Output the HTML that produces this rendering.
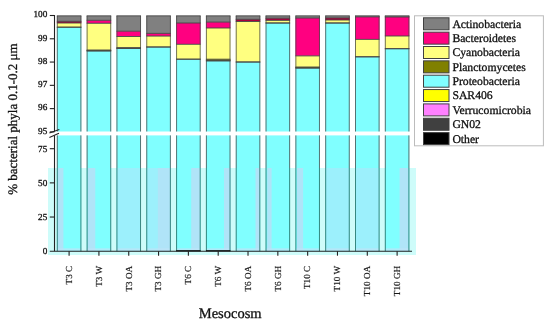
<!DOCTYPE html><html><head><meta charset="utf-8"><style>
html,body{margin:0;padding:0;background:#fff;width:550px;height:323px;overflow:hidden}
svg{display:block;will-change:transform}text{font-family:"Liberation Serif",serif;text-rendering:geometricPrecision;fill:#111;stroke:#111;stroke-width:0.3px}.xl{stroke-width:0.18px;fill:#1a1a1a;stroke:#1a1a1a}
</style></head><body>
<svg width="550" height="323" viewBox="0 0 550 323">
<rect x="56.85" y="27.20" width="24.5" height="104.30" fill="#80FFFF"/>
<rect x="56.85" y="15.85" width="24.5" height="5.45" fill="#808080"/>
<rect x="56.85" y="21.30" width="24.5" height="1.70" fill="#a8003c"/>
<rect x="56.85" y="23.00" width="24.5" height="4.20" fill="#FFFF80"/>
<rect x="56.85" y="135.4" width="24.5" height="115.80" fill="#80FFFF"/>
<line x1="56.85" x2="81.35" y1="15.85" y2="15.85" stroke="#444" stroke-width="0.9"/>
<line x1="56.85" x2="81.35" y1="21.30" y2="21.30" stroke="#444" stroke-width="0.9"/>
<line x1="56.85" x2="81.35" y1="23.00" y2="23.00" stroke="#444" stroke-width="0.9"/>
<line x1="56.85" x2="81.35" y1="27.20" y2="27.20" stroke="#444" stroke-width="0.9"/>
<line x1="56.85" x2="81.35" y1="27.20" y2="27.20" stroke="#444" stroke-width="0.9"/>
<line x1="57.30" x2="57.30" y1="15.85" y2="131.5" stroke="#444" stroke-width="0.75"/>
<line x1="57.30" x2="57.30" y1="135.4" y2="251.20" stroke="#444" stroke-width="0.75"/>
<line x1="80.90" x2="80.90" y1="15.85" y2="131.5" stroke="#444" stroke-width="0.75"/>
<line x1="80.90" x2="80.90" y1="135.4" y2="251.20" stroke="#444" stroke-width="0.75"/>
<rect x="86.67" y="50.90" width="24.5" height="80.60" fill="#80FFFF"/>
<rect x="86.67" y="15.85" width="24.5" height="4.45" fill="#808080"/>
<rect x="86.67" y="20.30" width="24.5" height="3.00" fill="#FF0080"/>
<rect x="86.67" y="23.30" width="24.5" height="26.70" fill="#FFFF80"/>
<rect x="86.67" y="50.00" width="24.5" height="0.90" fill="#808000"/>
<rect x="86.67" y="135.4" width="24.5" height="115.80" fill="#80FFFF"/>
<line x1="86.67" x2="111.17" y1="15.85" y2="15.85" stroke="#444" stroke-width="0.9"/>
<line x1="86.67" x2="111.17" y1="20.30" y2="20.30" stroke="#444" stroke-width="0.9"/>
<line x1="86.67" x2="111.17" y1="23.30" y2="23.30" stroke="#444" stroke-width="0.9"/>
<line x1="86.67" x2="111.17" y1="50.00" y2="50.00" stroke="#444" stroke-width="0.9"/>
<line x1="86.67" x2="111.17" y1="50.90" y2="50.90" stroke="#444" stroke-width="0.9"/>
<line x1="86.67" x2="111.17" y1="50.90" y2="50.90" stroke="#444" stroke-width="0.9"/>
<line x1="87.12" x2="87.12" y1="15.85" y2="131.5" stroke="#444" stroke-width="0.75"/>
<line x1="87.12" x2="87.12" y1="135.4" y2="251.20" stroke="#444" stroke-width="0.75"/>
<line x1="110.72" x2="110.72" y1="15.85" y2="131.5" stroke="#444" stroke-width="0.75"/>
<line x1="110.72" x2="110.72" y1="135.4" y2="251.20" stroke="#444" stroke-width="0.75"/>
<rect x="116.49" y="48.30" width="24.5" height="83.20" fill="#80FFFF"/>
<rect x="116.49" y="15.85" width="24.5" height="15.35" fill="#808080"/>
<rect x="116.49" y="31.20" width="24.5" height="5.30" fill="#FF0080"/>
<rect x="116.49" y="36.50" width="24.5" height="11.20" fill="#FFFF80"/>
<rect x="116.49" y="47.70" width="24.5" height="0.60" fill="#808000"/>
<rect x="116.49" y="135.4" width="24.5" height="115.80" fill="#80FFFF"/>
<line x1="116.49" x2="140.99" y1="15.85" y2="15.85" stroke="#444" stroke-width="0.9"/>
<line x1="116.49" x2="140.99" y1="31.20" y2="31.20" stroke="#444" stroke-width="0.9"/>
<line x1="116.49" x2="140.99" y1="36.50" y2="36.50" stroke="#444" stroke-width="0.9"/>
<line x1="116.49" x2="140.99" y1="47.70" y2="47.70" stroke="#444" stroke-width="0.9"/>
<line x1="116.49" x2="140.99" y1="48.30" y2="48.30" stroke="#444" stroke-width="0.9"/>
<line x1="116.49" x2="140.99" y1="48.30" y2="48.30" stroke="#444" stroke-width="0.9"/>
<line x1="116.94" x2="116.94" y1="15.85" y2="131.5" stroke="#444" stroke-width="0.75"/>
<line x1="116.94" x2="116.94" y1="135.4" y2="251.20" stroke="#444" stroke-width="0.75"/>
<line x1="140.54" x2="140.54" y1="15.85" y2="131.5" stroke="#444" stroke-width="0.75"/>
<line x1="140.54" x2="140.54" y1="135.4" y2="251.20" stroke="#444" stroke-width="0.75"/>
<rect x="146.31" y="47.00" width="24.5" height="84.50" fill="#80FFFF"/>
<rect x="146.31" y="15.85" width="24.5" height="17.55" fill="#808080"/>
<rect x="146.31" y="33.40" width="24.5" height="2.70" fill="#FF0080"/>
<rect x="146.31" y="36.10" width="24.5" height="10.90" fill="#FFFF80"/>
<rect x="146.31" y="135.4" width="24.5" height="115.80" fill="#80FFFF"/>
<line x1="146.31" x2="170.81" y1="15.85" y2="15.85" stroke="#444" stroke-width="0.9"/>
<line x1="146.31" x2="170.81" y1="33.40" y2="33.40" stroke="#444" stroke-width="0.9"/>
<line x1="146.31" x2="170.81" y1="36.10" y2="36.10" stroke="#444" stroke-width="0.9"/>
<line x1="146.31" x2="170.81" y1="47.00" y2="47.00" stroke="#444" stroke-width="0.9"/>
<line x1="146.31" x2="170.81" y1="47.00" y2="47.00" stroke="#444" stroke-width="0.9"/>
<line x1="146.76" x2="146.76" y1="15.85" y2="131.5" stroke="#444" stroke-width="0.75"/>
<line x1="146.76" x2="146.76" y1="135.4" y2="251.20" stroke="#444" stroke-width="0.75"/>
<line x1="170.36" x2="170.36" y1="15.85" y2="131.5" stroke="#444" stroke-width="0.75"/>
<line x1="170.36" x2="170.36" y1="135.4" y2="251.20" stroke="#444" stroke-width="0.75"/>
<rect x="176.13" y="59.20" width="24.5" height="72.30" fill="#80FFFF"/>
<rect x="176.13" y="15.85" width="24.5" height="7.15" fill="#808080"/>
<rect x="176.13" y="23.00" width="24.5" height="21.30" fill="#FF0080"/>
<rect x="176.13" y="44.30" width="24.5" height="14.90" fill="#FFFF80"/>
<rect x="176.13" y="135.4" width="24.5" height="115.80" fill="#80FFFF"/>
<line x1="176.13" x2="200.63" y1="15.85" y2="15.85" stroke="#444" stroke-width="0.9"/>
<line x1="176.13" x2="200.63" y1="23.00" y2="23.00" stroke="#444" stroke-width="0.9"/>
<line x1="176.13" x2="200.63" y1="44.30" y2="44.30" stroke="#444" stroke-width="0.9"/>
<line x1="176.13" x2="200.63" y1="59.20" y2="59.20" stroke="#444" stroke-width="0.9"/>
<line x1="176.13" x2="200.63" y1="59.20" y2="59.20" stroke="#444" stroke-width="0.9"/>
<line x1="176.58" x2="176.58" y1="15.85" y2="131.5" stroke="#444" stroke-width="0.75"/>
<line x1="176.58" x2="176.58" y1="135.4" y2="251.20" stroke="#444" stroke-width="0.75"/>
<line x1="200.18" x2="200.18" y1="15.85" y2="131.5" stroke="#444" stroke-width="0.75"/>
<line x1="200.18" x2="200.18" y1="135.4" y2="251.20" stroke="#444" stroke-width="0.75"/>
<rect x="205.95" y="60.80" width="24.5" height="70.70" fill="#80FFFF"/>
<rect x="205.95" y="15.85" width="24.5" height="6.25" fill="#808080"/>
<rect x="205.95" y="22.10" width="24.5" height="5.90" fill="#FF0080"/>
<rect x="205.95" y="28.00" width="24.5" height="31.20" fill="#FFFF80"/>
<rect x="205.95" y="59.20" width="24.5" height="1.60" fill="#808000"/>
<rect x="205.95" y="135.4" width="24.5" height="115.80" fill="#80FFFF"/>
<line x1="205.95" x2="230.45" y1="15.85" y2="15.85" stroke="#444" stroke-width="0.9"/>
<line x1="205.95" x2="230.45" y1="22.10" y2="22.10" stroke="#444" stroke-width="0.9"/>
<line x1="205.95" x2="230.45" y1="28.00" y2="28.00" stroke="#444" stroke-width="0.9"/>
<line x1="205.95" x2="230.45" y1="59.20" y2="59.20" stroke="#444" stroke-width="0.9"/>
<line x1="205.95" x2="230.45" y1="60.80" y2="60.80" stroke="#444" stroke-width="0.9"/>
<line x1="205.95" x2="230.45" y1="60.80" y2="60.80" stroke="#444" stroke-width="0.9"/>
<line x1="206.40" x2="206.40" y1="15.85" y2="131.5" stroke="#444" stroke-width="0.75"/>
<line x1="206.40" x2="206.40" y1="135.4" y2="251.20" stroke="#444" stroke-width="0.75"/>
<line x1="230.00" x2="230.00" y1="15.85" y2="131.5" stroke="#444" stroke-width="0.75"/>
<line x1="230.00" x2="230.00" y1="135.4" y2="251.20" stroke="#444" stroke-width="0.75"/>
<rect x="235.77" y="62.00" width="24.5" height="69.50" fill="#80FFFF"/>
<rect x="235.77" y="15.85" width="24.5" height="3.45" fill="#808080"/>
<rect x="235.77" y="19.30" width="24.5" height="2.20" fill="#a8003c"/>
<rect x="235.77" y="21.50" width="24.5" height="40.50" fill="#FFFF80"/>
<rect x="235.77" y="135.4" width="24.5" height="115.80" fill="#80FFFF"/>
<line x1="235.77" x2="260.27" y1="15.85" y2="15.85" stroke="#444" stroke-width="0.9"/>
<line x1="235.77" x2="260.27" y1="19.30" y2="19.30" stroke="#444" stroke-width="0.9"/>
<line x1="235.77" x2="260.27" y1="21.50" y2="21.50" stroke="#444" stroke-width="0.9"/>
<line x1="235.77" x2="260.27" y1="62.00" y2="62.00" stroke="#444" stroke-width="0.9"/>
<line x1="235.77" x2="260.27" y1="62.00" y2="62.00" stroke="#444" stroke-width="0.9"/>
<line x1="236.22" x2="236.22" y1="15.85" y2="131.5" stroke="#444" stroke-width="0.75"/>
<line x1="236.22" x2="236.22" y1="135.4" y2="251.20" stroke="#444" stroke-width="0.75"/>
<line x1="259.82" x2="259.82" y1="15.85" y2="131.5" stroke="#444" stroke-width="0.75"/>
<line x1="259.82" x2="259.82" y1="135.4" y2="251.20" stroke="#444" stroke-width="0.75"/>
<rect x="265.59" y="23.00" width="24.5" height="108.50" fill="#80FFFF"/>
<rect x="265.59" y="15.85" width="24.5" height="2.35" fill="#808080"/>
<rect x="265.59" y="18.20" width="24.5" height="2.20" fill="#a8003c"/>
<rect x="265.59" y="20.40" width="24.5" height="2.60" fill="#FFFF80"/>
<rect x="265.59" y="135.4" width="24.5" height="115.80" fill="#80FFFF"/>
<line x1="265.59" x2="290.09" y1="15.85" y2="15.85" stroke="#444" stroke-width="0.9"/>
<line x1="265.59" x2="290.09" y1="18.20" y2="18.20" stroke="#444" stroke-width="0.9"/>
<line x1="265.59" x2="290.09" y1="20.40" y2="20.40" stroke="#444" stroke-width="0.9"/>
<line x1="265.59" x2="290.09" y1="23.00" y2="23.00" stroke="#444" stroke-width="0.9"/>
<line x1="265.59" x2="290.09" y1="23.00" y2="23.00" stroke="#444" stroke-width="0.9"/>
<line x1="266.04" x2="266.04" y1="15.85" y2="131.5" stroke="#444" stroke-width="0.75"/>
<line x1="266.04" x2="266.04" y1="135.4" y2="251.20" stroke="#444" stroke-width="0.75"/>
<line x1="289.64" x2="289.64" y1="15.85" y2="131.5" stroke="#444" stroke-width="0.75"/>
<line x1="289.64" x2="289.64" y1="135.4" y2="251.20" stroke="#444" stroke-width="0.75"/>
<rect x="295.41" y="68.00" width="24.5" height="63.50" fill="#80FFFF"/>
<rect x="295.41" y="15.85" width="24.5" height="2.15" fill="#808080"/>
<rect x="295.41" y="18.00" width="24.5" height="37.90" fill="#FF0080"/>
<rect x="295.41" y="55.90" width="24.5" height="11.10" fill="#FFFF80"/>
<rect x="295.41" y="67.00" width="24.5" height="1.00" fill="#808000"/>
<rect x="295.41" y="135.4" width="24.5" height="115.80" fill="#80FFFF"/>
<line x1="295.41" x2="319.91" y1="15.85" y2="15.85" stroke="#444" stroke-width="0.9"/>
<line x1="295.41" x2="319.91" y1="18.00" y2="18.00" stroke="#444" stroke-width="0.9"/>
<line x1="295.41" x2="319.91" y1="55.90" y2="55.90" stroke="#444" stroke-width="0.9"/>
<line x1="295.41" x2="319.91" y1="67.00" y2="67.00" stroke="#444" stroke-width="0.9"/>
<line x1="295.41" x2="319.91" y1="68.00" y2="68.00" stroke="#444" stroke-width="0.9"/>
<line x1="295.41" x2="319.91" y1="68.00" y2="68.00" stroke="#444" stroke-width="0.9"/>
<line x1="295.86" x2="295.86" y1="15.85" y2="131.5" stroke="#444" stroke-width="0.75"/>
<line x1="295.86" x2="295.86" y1="135.4" y2="251.20" stroke="#444" stroke-width="0.75"/>
<line x1="319.46" x2="319.46" y1="15.85" y2="131.5" stroke="#444" stroke-width="0.75"/>
<line x1="319.46" x2="319.46" y1="135.4" y2="251.20" stroke="#444" stroke-width="0.75"/>
<rect x="325.23" y="23.00" width="24.5" height="108.50" fill="#80FFFF"/>
<rect x="325.23" y="15.85" width="24.5" height="2.05" fill="#808080"/>
<rect x="325.23" y="17.90" width="24.5" height="2.10" fill="#a8003c"/>
<rect x="325.23" y="20.00" width="24.5" height="3.00" fill="#FFFF80"/>
<rect x="325.23" y="135.4" width="24.5" height="115.80" fill="#80FFFF"/>
<line x1="325.23" x2="349.73" y1="15.85" y2="15.85" stroke="#444" stroke-width="0.9"/>
<line x1="325.23" x2="349.73" y1="17.90" y2="17.90" stroke="#444" stroke-width="0.9"/>
<line x1="325.23" x2="349.73" y1="20.00" y2="20.00" stroke="#444" stroke-width="0.9"/>
<line x1="325.23" x2="349.73" y1="23.00" y2="23.00" stroke="#444" stroke-width="0.9"/>
<line x1="325.23" x2="349.73" y1="23.00" y2="23.00" stroke="#444" stroke-width="0.9"/>
<line x1="325.68" x2="325.68" y1="15.85" y2="131.5" stroke="#444" stroke-width="0.75"/>
<line x1="325.68" x2="325.68" y1="135.4" y2="251.20" stroke="#444" stroke-width="0.75"/>
<line x1="349.28" x2="349.28" y1="15.85" y2="131.5" stroke="#444" stroke-width="0.75"/>
<line x1="349.28" x2="349.28" y1="135.4" y2="251.20" stroke="#444" stroke-width="0.75"/>
<rect x="355.05" y="56.80" width="24.5" height="74.70" fill="#80FFFF"/>
<rect x="355.05" y="15.85" width="24.5" height="1.05" fill="#808080"/>
<rect x="355.05" y="16.90" width="24.5" height="22.50" fill="#FF0080"/>
<rect x="355.05" y="39.40" width="24.5" height="17.40" fill="#FFFF80"/>
<rect x="355.05" y="135.4" width="24.5" height="115.80" fill="#80FFFF"/>
<line x1="355.05" x2="379.55" y1="15.85" y2="15.85" stroke="#444" stroke-width="0.9"/>
<line x1="355.05" x2="379.55" y1="16.90" y2="16.90" stroke="#444" stroke-width="0.9"/>
<line x1="355.05" x2="379.55" y1="39.40" y2="39.40" stroke="#444" stroke-width="0.9"/>
<line x1="355.05" x2="379.55" y1="56.80" y2="56.80" stroke="#444" stroke-width="0.9"/>
<line x1="355.05" x2="379.55" y1="56.80" y2="56.80" stroke="#444" stroke-width="0.9"/>
<line x1="355.50" x2="355.50" y1="15.85" y2="131.5" stroke="#444" stroke-width="0.75"/>
<line x1="355.50" x2="355.50" y1="135.4" y2="251.20" stroke="#444" stroke-width="0.75"/>
<line x1="379.10" x2="379.10" y1="15.85" y2="131.5" stroke="#444" stroke-width="0.75"/>
<line x1="379.10" x2="379.10" y1="135.4" y2="251.20" stroke="#444" stroke-width="0.75"/>
<rect x="384.87" y="48.70" width="24.5" height="82.80" fill="#80FFFF"/>
<rect x="384.87" y="15.85" width="24.5" height="1.15" fill="#808080"/>
<rect x="384.87" y="17.00" width="24.5" height="19.00" fill="#FF0080"/>
<rect x="384.87" y="36.00" width="24.5" height="12.70" fill="#FFFF80"/>
<rect x="384.87" y="135.4" width="24.5" height="115.80" fill="#80FFFF"/>
<line x1="384.87" x2="409.37" y1="15.85" y2="15.85" stroke="#444" stroke-width="0.9"/>
<line x1="384.87" x2="409.37" y1="17.00" y2="17.00" stroke="#444" stroke-width="0.9"/>
<line x1="384.87" x2="409.37" y1="36.00" y2="36.00" stroke="#444" stroke-width="0.9"/>
<line x1="384.87" x2="409.37" y1="48.70" y2="48.70" stroke="#444" stroke-width="0.9"/>
<line x1="384.87" x2="409.37" y1="48.70" y2="48.70" stroke="#444" stroke-width="0.9"/>
<line x1="385.32" x2="385.32" y1="15.85" y2="131.5" stroke="#444" stroke-width="0.75"/>
<line x1="385.32" x2="385.32" y1="135.4" y2="251.20" stroke="#444" stroke-width="0.75"/>
<line x1="408.92" x2="408.92" y1="15.85" y2="131.5" stroke="#444" stroke-width="0.75"/>
<line x1="408.92" x2="408.92" y1="135.4" y2="251.20" stroke="#444" stroke-width="0.75"/>
<rect x="48" y="168" width="368" height="87" fill="#cefcfa"/>
<rect x="56.85" y="168" width="24.5" height="83.20" fill="#80FFFF"/>
<rect x="57.50" y="168" width="5.90" height="83.20" fill="#b0e4f8"/>
<rect x="56.85" y="248.3" width="24.5" height="2.90" fill="#c0e4f8" opacity="0.7"/>
<line x1="57.30" x2="57.30" y1="168" y2="251.20" stroke="#1f6a60" stroke-width="0.8"/>
<line x1="80.90" x2="80.90" y1="168" y2="251.20" stroke="#1f6a60" stroke-width="0.8"/>
<rect x="86.67" y="168" width="24.5" height="83.20" fill="#80FFFF"/>
<rect x="87.60" y="168" width="7.70" height="83.20" fill="#b0e4f8"/>
<rect x="86.67" y="248.3" width="24.5" height="2.90" fill="#c0e4f8" opacity="0.7"/>
<line x1="87.12" x2="87.12" y1="168" y2="251.20" stroke="#1f6a60" stroke-width="0.8"/>
<line x1="110.72" x2="110.72" y1="168" y2="251.20" stroke="#1f6a60" stroke-width="0.8"/>
<rect x="116.49" y="168" width="24.5" height="83.20" fill="#80FFFF"/>
<rect x="116.50" y="168" width="24.50" height="83.20" fill="#9cf0fc"/>
<rect x="116.49" y="248.3" width="24.5" height="2.90" fill="#c0e4f8" opacity="0.7"/>
<line x1="116.94" x2="116.94" y1="168" y2="251.20" stroke="#1f6a60" stroke-width="0.8"/>
<line x1="140.54" x2="140.54" y1="168" y2="251.20" stroke="#1f6a60" stroke-width="0.8"/>
<rect x="146.31" y="168" width="24.5" height="83.20" fill="#80FFFF"/>
<rect x="146.50" y="168" width="24.00" height="83.20" fill="#9cf0fc"/>
<rect x="157.80" y="168" width="12.70" height="83.20" fill="#b0e4f8"/>
<rect x="146.31" y="248.3" width="24.5" height="2.90" fill="#c0e4f8" opacity="0.7"/>
<line x1="146.76" x2="146.76" y1="168" y2="251.20" stroke="#1f6a60" stroke-width="0.8"/>
<line x1="170.36" x2="170.36" y1="168" y2="251.20" stroke="#1f6a60" stroke-width="0.8"/>
<rect x="176.13" y="168" width="24.5" height="83.20" fill="#80FFFF"/>
<rect x="191.20" y="168" width="8.80" height="83.20" fill="#b0e4f8"/>
<rect x="176.13" y="248.3" width="24.5" height="2.90" fill="#c0e4f8" opacity="0.7"/>
<line x1="176.58" x2="176.58" y1="168" y2="251.20" stroke="#1f6a60" stroke-width="0.8"/>
<line x1="200.18" x2="200.18" y1="168" y2="251.20" stroke="#1f6a60" stroke-width="0.8"/>
<rect x="176.13" y="250.2" width="24.5" height="1.2" fill="#000"/>
<rect x="205.95" y="168" width="24.5" height="83.20" fill="#80FFFF"/>
<rect x="224.00" y="168" width="6.50" height="83.20" fill="#b0e4f8"/>
<rect x="205.95" y="248.3" width="24.5" height="2.90" fill="#c0e4f8" opacity="0.7"/>
<line x1="206.40" x2="206.40" y1="168" y2="251.20" stroke="#1f6a60" stroke-width="0.8"/>
<line x1="230.00" x2="230.00" y1="168" y2="251.20" stroke="#1f6a60" stroke-width="0.8"/>
<rect x="205.95" y="250.2" width="24.5" height="1.2" fill="#000"/>
<rect x="235.77" y="168" width="24.5" height="83.20" fill="#80FFFF"/>
<rect x="255.50" y="168" width="4.50" height="83.20" fill="#b0e4f8"/>
<rect x="235.77" y="248.3" width="24.5" height="2.90" fill="#c0e4f8" opacity="0.7"/>
<line x1="236.22" x2="236.22" y1="168" y2="251.20" stroke="#1f6a60" stroke-width="0.8"/>
<line x1="259.82" x2="259.82" y1="168" y2="251.20" stroke="#1f6a60" stroke-width="0.8"/>
<rect x="265.59" y="168" width="24.5" height="83.20" fill="#80FFFF"/>
<rect x="267.30" y="168" width="4.30" height="83.20" fill="#b0e4f8"/>
<rect x="265.59" y="248.3" width="24.5" height="2.90" fill="#c0e4f8" opacity="0.7"/>
<line x1="266.04" x2="266.04" y1="168" y2="251.20" stroke="#1f6a60" stroke-width="0.8"/>
<line x1="289.64" x2="289.64" y1="168" y2="251.20" stroke="#1f6a60" stroke-width="0.8"/>
<rect x="295.41" y="168" width="24.5" height="83.20" fill="#80FFFF"/>
<rect x="297.00" y="168" width="6.10" height="83.20" fill="#b0e4f8"/>
<rect x="295.41" y="248.3" width="24.5" height="2.90" fill="#c0e4f8" opacity="0.7"/>
<line x1="295.86" x2="295.86" y1="168" y2="251.20" stroke="#1f6a60" stroke-width="0.8"/>
<line x1="319.46" x2="319.46" y1="168" y2="251.20" stroke="#1f6a60" stroke-width="0.8"/>
<rect x="325.23" y="168" width="24.5" height="83.20" fill="#80FFFF"/>
<rect x="325.50" y="168" width="24.00" height="83.20" fill="#9cf0fc"/>
<rect x="325.23" y="248.3" width="24.5" height="2.90" fill="#c0e4f8" opacity="0.7"/>
<line x1="325.68" x2="325.68" y1="168" y2="251.20" stroke="#1f6a60" stroke-width="0.8"/>
<line x1="349.28" x2="349.28" y1="168" y2="251.20" stroke="#1f6a60" stroke-width="0.8"/>
<rect x="355.05" y="168" width="24.5" height="83.20" fill="#80FFFF"/>
<rect x="355.50" y="168" width="23.50" height="83.20" fill="#9cf0fc"/>
<rect x="355.05" y="248.3" width="24.5" height="2.90" fill="#c0e4f8" opacity="0.7"/>
<line x1="355.50" x2="355.50" y1="168" y2="251.20" stroke="#1f6a60" stroke-width="0.8"/>
<line x1="379.10" x2="379.10" y1="168" y2="251.20" stroke="#1f6a60" stroke-width="0.8"/>
<rect x="384.87" y="168" width="24.5" height="83.20" fill="#80FFFF"/>
<rect x="399.60" y="168" width="8.90" height="83.20" fill="#b0e4f8"/>
<rect x="384.87" y="248.3" width="24.5" height="2.90" fill="#c0e4f8" opacity="0.7"/>
<line x1="385.32" x2="385.32" y1="168" y2="251.20" stroke="#1f6a60" stroke-width="0.8"/>
<line x1="408.92" x2="408.92" y1="168" y2="251.20" stroke="#1f6a60" stroke-width="0.8"/>
<g stroke="#222" stroke-width="1.1" fill="none">
<line x1="54.5" x2="54.5" y1="15.0" y2="131.5"/>
<line x1="54.5" x2="54.5" y1="135.4" y2="251.2"/>
<line x1="49.8" x2="412" y1="251.2" y2="251.2"/>
<line x1="49.8" x2="54.5" y1="15.50" y2="15.50"/>
<line x1="49.8" x2="54.5" y1="38.78" y2="38.78"/>
<line x1="49.8" x2="54.5" y1="62.06" y2="62.06"/>
<line x1="49.8" x2="54.5" y1="85.34" y2="85.34"/>
<line x1="49.8" x2="54.5" y1="108.62" y2="108.62"/>
<line x1="49.8" x2="54.5" y1="131.90" y2="131.90"/>
<line x1="49.8" x2="54.5" y1="148.70" y2="148.70"/>
<line x1="49.8" x2="54.5" y1="182.87" y2="182.87"/>
<line x1="49.8" x2="54.5" y1="217.03" y2="217.03"/>
<line x1="69.10" x2="69.10" y1="251.2" y2="255.7"/>
<line x1="98.92" x2="98.92" y1="251.2" y2="255.7"/>
<line x1="128.74" x2="128.74" y1="251.2" y2="255.7"/>
<line x1="158.56" x2="158.56" y1="251.2" y2="255.7"/>
<line x1="188.38" x2="188.38" y1="251.2" y2="255.7"/>
<line x1="218.20" x2="218.20" y1="251.2" y2="255.7"/>
<line x1="248.02" x2="248.02" y1="251.2" y2="255.7"/>
<line x1="277.84" x2="277.84" y1="251.2" y2="255.7"/>
<line x1="307.66" x2="307.66" y1="251.2" y2="255.7"/>
<line x1="337.48" x2="337.48" y1="251.2" y2="255.7"/>
<line x1="367.30" x2="367.30" y1="251.2" y2="255.7"/>
<line x1="397.12" x2="397.12" y1="251.2" y2="255.7"/>
<line x1="49.4" y1="133.0" x2="59.3" y2="129.4"/>
<line x1="49.4" y1="137.4" x2="59.0" y2="133.3"/>
</g>
<text x="47.3" y="17.30" font-size="9.2" text-anchor="end">100</text>
<text x="47.3" y="40.58" font-size="9.2" text-anchor="end">99</text>
<text x="47.3" y="63.86" font-size="9.2" text-anchor="end">98</text>
<text x="47.3" y="87.14" font-size="9.2" text-anchor="end">97</text>
<text x="47.3" y="110.42" font-size="9.2" text-anchor="end">96</text>
<text x="47.3" y="133.70" font-size="9.2" text-anchor="end">95</text>
<text x="47.3" y="151.60" font-size="9.2" text-anchor="end">75</text>
<text x="47.3" y="185.77" font-size="9.2" text-anchor="end">50</text>
<text x="47.3" y="219.93" font-size="9.2" text-anchor="end">25</text>
<text x="47.3" y="254.10" font-size="9.2" text-anchor="end">0</text>
<text transform="translate(71.90,265.8) rotate(-90)" font-size="9.2" text-anchor="end" class="xl">T3 C</text>
<text transform="translate(101.72,265.8) rotate(-90)" font-size="9.2" text-anchor="end" class="xl">T3 W</text>
<text transform="translate(131.54,265.8) rotate(-90)" font-size="9.2" text-anchor="end" class="xl">T3 OA</text>
<text transform="translate(161.36,265.8) rotate(-90)" font-size="9.2" text-anchor="end" class="xl">T3 GH</text>
<text transform="translate(191.18,265.8) rotate(-90)" font-size="9.2" text-anchor="end" class="xl">T6 C</text>
<text transform="translate(221.00,265.8) rotate(-90)" font-size="9.2" text-anchor="end" class="xl">T6 W</text>
<text transform="translate(250.82,265.8) rotate(-90)" font-size="9.2" text-anchor="end" class="xl">T6 OA</text>
<text transform="translate(280.64,265.8) rotate(-90)" font-size="9.2" text-anchor="end" class="xl">T6 GH</text>
<text transform="translate(310.46,265.8) rotate(-90)" font-size="9.2" text-anchor="end" class="xl">T10 C</text>
<text transform="translate(340.28,265.8) rotate(-90)" font-size="9.2" text-anchor="end" class="xl">T10 W</text>
<text transform="translate(370.10,265.8) rotate(-90)" font-size="9.2" text-anchor="end" class="xl">T10 OA</text>
<text transform="translate(399.92,265.8) rotate(-90)" font-size="9.2" text-anchor="end" class="xl">T10 GH</text>
<text transform="translate(16.9,119.1) rotate(-90)" font-size="13" text-anchor="middle">% bacterial phyla 0.1-0.2 μm</text>
<text x="230.2" y="318" font-size="14.5" text-anchor="middle">Mesocosm</text>
<rect x="414.5" y="15.8" width="128.9" height="130" fill="#fff" stroke="#bcbcbc" stroke-width="1"/>
<rect x="423.5" y="17.80" width="25.5" height="12" fill="#808080" stroke="#404040" stroke-width="1"/>
<text x="452.4" y="27.70" font-size="11.7">Actinobacteria</text>
<rect x="423.5" y="32.15" width="25.5" height="12" fill="#FF0080" stroke="#404040" stroke-width="1"/>
<text x="452.4" y="42.05" font-size="11.7">Bacteroidetes</text>
<rect x="423.5" y="46.50" width="25.5" height="12" fill="#FFFF80" stroke="#404040" stroke-width="1"/>
<text x="452.4" y="56.40" font-size="11.7">Cyanobacteria</text>
<rect x="423.5" y="60.85" width="25.5" height="12" fill="#808000" stroke="#404040" stroke-width="1"/>
<text x="452.4" y="70.75" font-size="11.7">Planctomycetes</text>
<rect x="423.5" y="75.20" width="25.5" height="12" fill="#80FFFF" stroke="#404040" stroke-width="1"/>
<text x="452.4" y="85.10" font-size="11.7">Proteobacteria</text>
<rect x="423.5" y="89.55" width="25.5" height="12" fill="#FFFF00" stroke="#404040" stroke-width="1"/>
<text x="452.4" y="99.45" font-size="11.7">SAR406</text>
<rect x="423.5" y="103.90" width="25.5" height="12" fill="#FF80FF" stroke="#404040" stroke-width="1"/>
<text x="452.4" y="113.80" font-size="11.7">Verrucomicrobia</text>
<rect x="423.5" y="118.25" width="25.5" height="12" fill="#404040" stroke="#404040" stroke-width="1"/>
<text x="452.4" y="128.15" font-size="11.7">GN02</text>
<rect x="423.5" y="132.60" width="25.5" height="12" fill="#000000" stroke="#404040" stroke-width="1"/>
<text x="452.4" y="142.50" font-size="11.7">Other</text>
</svg></body></html>
